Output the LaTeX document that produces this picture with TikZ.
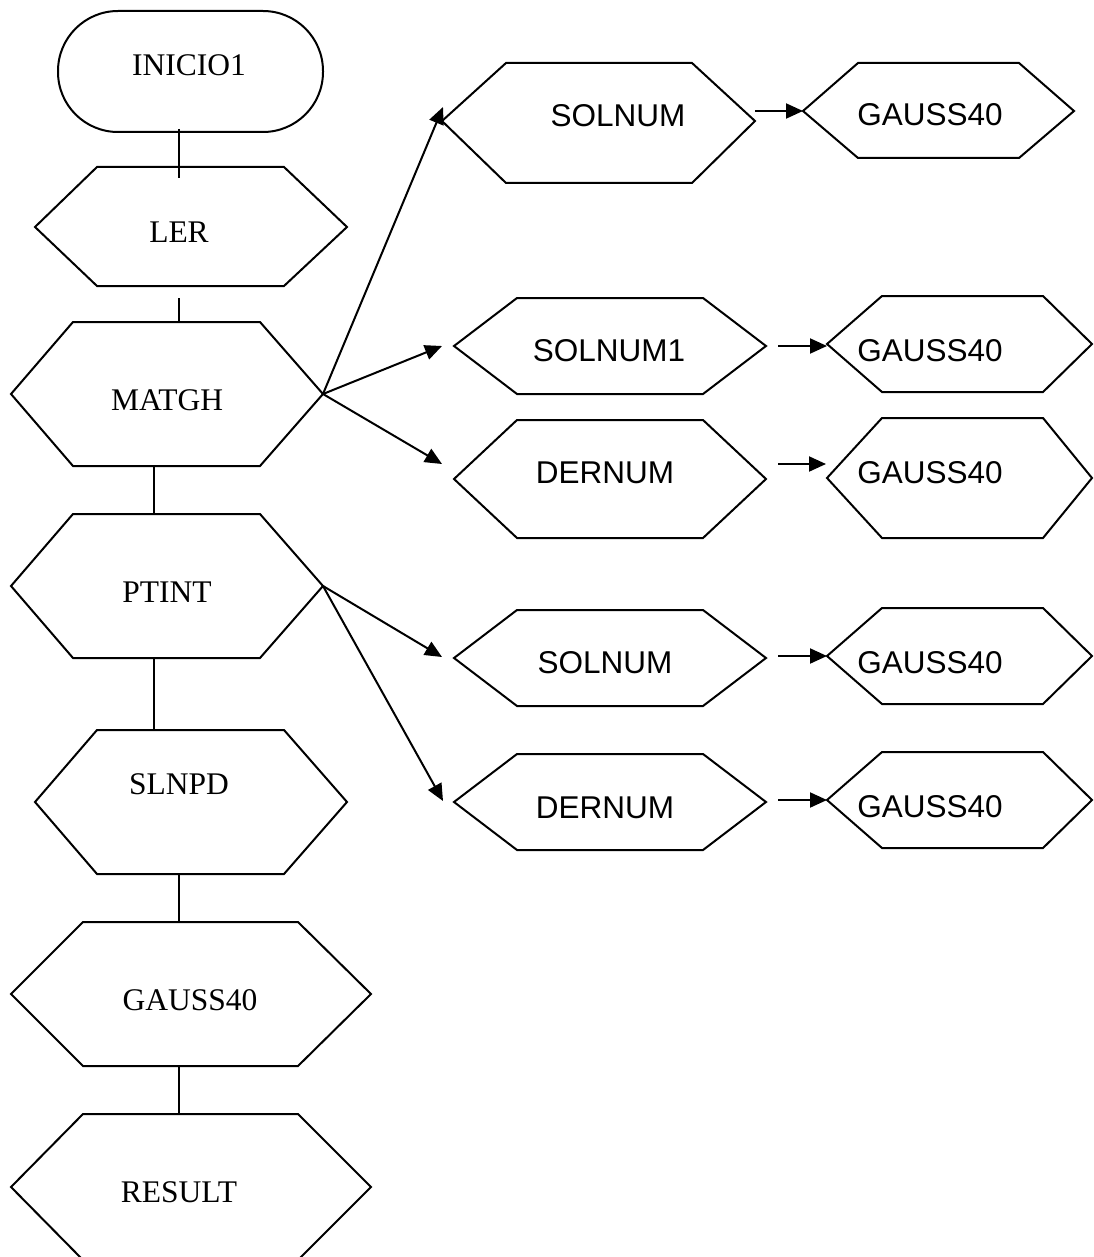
\documentclass[tikz,border=0pt]{standalone}
\usepackage{fontspec}
\setmainfont{Liberation Serif}
\newfontfamily\arialfont{Liberation Sans}
\usetikzlibrary{arrows.meta}
\tikzset{
  shapeline/.style={line width=2pt, line join=miter},
  conn/.style={line width=2pt},
  arr/.style={line width=2pt, -{Triangle[length=17pt,width=15pt]}},
  serif/.style={font=\fontsize{31.5}{31.5}\selectfont, anchor=base, inner sep=0pt},
  sans/.style={font=\arialfont\fontsize{31.5}{31.5}\selectfont, anchor=base, inner sep=0pt},
}
% #1 name, #2 x left point, #3 x left vertex, #4 x right vertex, #5 x right point,
% #6 y top, #7 y middle, #8 y bottom
\newcommand\hexpath[8]{%
  \coordinate (#1-l) at (#2,#7);
  \coordinate (#1-r) at (#5,#7);
  \coordinate (#1-tl) at (#3,#6);
  \coordinate (#1-tr) at (#4,#6);
  \coordinate (#1-bl) at (#3,#8);
  \coordinate (#1-br) at (#4,#8);
  \draw[shapeline] (#1-l) -- (#1-tl) -- (#1-tr) -- (#1-r) -- (#1-br) -- (#1-bl) -- cycle;
}
\begin{document}
\begin{tikzpicture}[x=1pt,y=-1pt]
\useasboundingbox (0,0) rectangle (1093,1257);

% ---------- left column ----------
\node[draw, line width=2pt, rounded corners=60pt, minimum width=265pt,
      minimum height=121pt, inner sep=0pt] (inicio) at (190.5,71.5) {};
\node[serif] (tinicio) at (189,76) {INICIO1};

\hexpath{ler}{35}{97}{284}{347}{167}{227}{286}
\node[serif] (tler) at (179,243) {LER};

\hexpath{matgh}{11}{73}{260}{323}{322}{394}{466}
\node[serif] (tmatgh) at (167,410) {MATGH};

\hexpath{ptint}{11}{73}{260}{323}{514}{586}{658}
\node[serif] (tptint) at (167,602) {PTINT};

\hexpath{slnpd}{35}{97}{284}{347}{730}{802}{874}
\node[serif] (tslnpd) at (179,794) {SLNPD};

\hexpath{gaussA}{11}{83}{298}{371}{922}{994}{1066}
\node[serif] (tgaussA) at (190,1010) {GAUSS40};

\hexpath{result}{11}{83}{298}{371}{1114}{1187}{1260}
\node[serif] (tresult) at (179,1202) {RESULT};

% vertical connectors
\coordinate (c1a) at (179,129);  \coordinate (c1b) at (179,178);
\coordinate (c2a) at (179,298);  \coordinate (c2b) at (179,322);
\coordinate (c3a) at (154,466);  \coordinate (c3b) at (154,514);
\coordinate (c4a) at (154,658);  \coordinate (c4b) at (154,730);
\coordinate (c5a) at (179,874);  \coordinate (c5b) at (179,922);
\coordinate (c6a) at (179,1066); \coordinate (c6b) at (179,1114);
\draw[conn] (c1a) -- (c1b);
\draw[conn] (c2a) -- (c2b);
\draw[conn] (c3a) -- (c3b);
\draw[conn] (c4a) -- (c4b);
\draw[conn] (c5a) -- (c5b);
\draw[conn] (c6a) -- (c6b);

% ---------- right column ----------
\hexpath{solA}{442}{506}{692}{755}{63}{121}{183}
\node[sans] (tsolA) at (618,127) {SOLNUM};
\hexpath{gB}{803}{858}{1019}{1074}{63}{111}{158}
\node[sans] (tgB) at (930,126) {GAUSS40};

\hexpath{sol1}{454}{517}{703}{766}{298}{346}{394}
\node[sans] (tsol1) at (609,361) {SOLNUM1};
\hexpath{gC}{827}{882}{1043}{1092}{296}{344}{392}
\node[sans] (tgC) at (930,361) {GAUSS40};

\hexpath{derA}{454}{517}{703}{766}{420}{479}{538}
\node[sans] (tderA) at (605,483) {DERNUM};
\hexpath{gD}{827}{882}{1043}{1092}{418}{478}{538}
\node[sans] (tgD) at (930,483) {GAUSS40};

\hexpath{solB}{454}{517}{703}{766}{610}{658}{706}
\node[sans] (tsolB) at (605,673) {SOLNUM};
\hexpath{gE}{827}{882}{1043}{1092}{608}{656}{704}
\node[sans] (tgE) at (930,673) {GAUSS40};

\hexpath{derB}{454}{517}{703}{766}{754}{802}{850}
\node[sans] (tderB) at (605,818) {DERNUM};
\hexpath{gF}{827}{882}{1043}{1092}{752}{800}{848}
\node[sans] (tgF) at (930,817) {GAUSS40};

% ---------- arrows ----------
\coordinate (tipSolA) at (443,107);
\coordinate (tipSol1) at (442,346);
\coordinate (tipDerA) at (442,464);
\coordinate (tipSolB) at (442,657);
\coordinate (tipDerB) at (443,801);
\draw[arr] (matgh-r) -- (tipSolA);
\draw[arr] (matgh-r) -- (tipSol1);
\draw[arr] (matgh-r) -- (tipDerA);
\draw[arr] (ptint-r) -- (tipSolB);
\draw[arr] (ptint-r) -- (tipDerB);

\coordinate (hA) at (755,111);
\coordinate (hB) at (778,346); \coordinate (hBt) at (827,346);
\coordinate (hC) at (778,464); \coordinate (hCt) at (826,464);
\coordinate (hD) at (778,656);
\coordinate (hE) at (778,800);
\draw[arr] (hA) -- (gB-l);
\draw[arr] (hB) -- (hBt);
\draw[arr] (hC) -- (hCt);
\draw[arr] (hD) -- (gE-l);
\draw[arr] (hE) -- (gF-l);
\end{tikzpicture}
\end{document}
